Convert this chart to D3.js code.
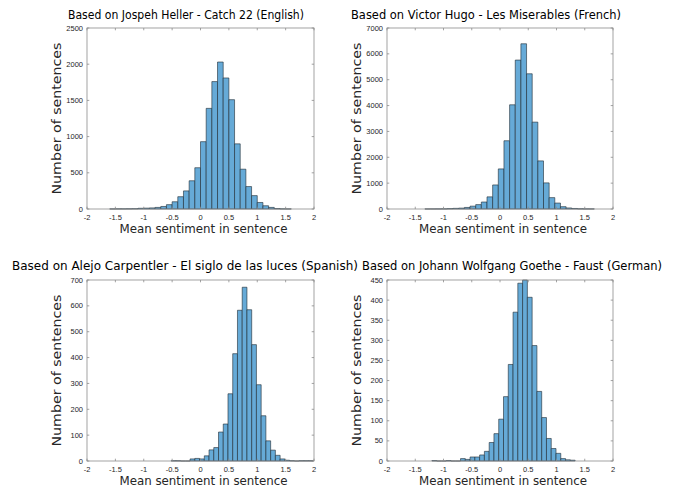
<!DOCTYPE html>
<html>
<head>
<meta charset="utf-8">
<script src="https://cdn.jsdelivr.net/npm/d3@7"></script>
<style>
  body { margin: 0; background: #fff; }
  svg { display: block; }
  .title { font-family: "DejaVu Sans", sans-serif; font-size: 11.8px; fill: #000; }
  .alabel { font-family: "DejaVu Sans", sans-serif; font-size: 12.5px; fill: #262626; }
  .tick { font-family: "Liberation Sans", Arial, sans-serif; font-size: 7.5px; fill: #262626; }
</style>
</head>
<body>
<div id="chart"></div>
<script>
// tick labels shared by all four panels
var xTicks = [-2, -1.5, -1, -0.5, 0, 0.5, 1, 1.5, 2];

// Catch 22 (English) - bins of 0.1 starting at -1.6
var catchStart = -1.6, catchWidth = 0.1;
var catchCounts = [1, 2, 2, 3, 4, 10, 12, 15, 22, 35, 60, 100, 170, 250, 390, 570,
                   930, 1390, 1760, 2030, 1810, 1510, 900, 550, 310, 185, 90, 45, 22, 6, 2, 1];
var catchYTicks = [0, 500, 1000, 1500, 2000, 2500];

// Les Miserables (French)
var hugoStart = -1.33, hugoWidth = 0.1;
var hugoCounts = [2, 3, 4, 6, 15, 25, 35, 60, 110, 170, 270, 470, 930, 1550, 2640, 4030,
                  5760, 6390, 5230, 3360, 1860, 1010, 440, 230, 90, 40, 20, 8, 4, 3];
var hugoYTicks = [0, 1000, 2000, 3000, 4000, 5000, 6000, 7000];

// El siglo de las luces (Spanish)
var carpStart = -0.5175, carpWidth = 0.0835;
var carpCounts = [1, 1, 0, 0, 8, 10, 8, 20, 43, 52, 112, 143, 260, 415, 583, 672,
                  585, 450, 295, 175, 78, 42, 22, 8, 3, 1, 0, 1, 1, 1];
var carpYTicks = [0, 100, 200, 300, 400, 500, 600, 700];

// Faust (German)
var faustStart = -1.2055, faustWidth = 0.0845;
var faustCounts = [1, 0, 0, 1, 0, 0, 6, 4, 10, 10, 15, 24, 46, 68, 104, 160,
                   240, 370, 442, 450, 407, 287, 173, 108, 56, 31, 19, 6, 3, 2];
var faustYTicks = [0, 50, 100, 150, 200, 250, 300, 350, 400, 450];

var titles = [
  "Based on Jospeh Heller - Catch 22 (English)",
  "Based on Victor Hugo - Les Miserables (French)",
  "Based on Alejo Carpentler - El siglo de las luces (Spanish)",
  "Based on Johann Wolfgang Goethe - Faust (German)"
];

var panels = [
  {title: titles[0], start: catchStart, width: catchWidth, counts: catchCounts, yTicks: catchYTicks,
   x: 87, y: 28, w: 227, h: 181, tx: 186, ty: 19, tw: 236},
  {title: titles[1], start: hugoStart, width: hugoWidth, counts: hugoCounts, yTicks: hugoYTicks,
   x: 387, y: 28, w: 226, h: 181, tx: 486, ty: 19, tw: 270},
  {title: titles[2], start: carpStart, width: carpWidth, counts: carpCounts, yTicks: carpYTicks,
   x: 87, y: 280, w: 227, h: 181, tx: 185, ty: 270, tw: 346},
  {title: titles[3], start: faustStart, width: faustWidth, counts: faustCounts, yTicks: faustYTicks,
   x: 387, y: 280, w: 226, h: 181, tx: 512, ty: 270, tw: 300}
];

var svg = d3.select("#chart").append("svg")
    .attr("width", 697)
    .attr("height", 492);

panels.forEach(function(p) {
  var g = svg.append("g").attr("transform", "translate(" + p.x + "," + p.y + ")");

  var x = d3.scaleLinear().domain([-2, 2]).range([0, p.w]);
  var y = d3.scaleLinear().domain([0, d3.max(p.yTicks)]).range([p.h, 0]);

  var bins = p.counts.map(function(c, i) {
    return {x0: p.start + i * p.width, x1: p.start + (i + 1) * p.width, count: c};
  });

  // bars (path so that empty bins still leave a line on the baseline)
  g.selectAll("path.bar")
    .data(bins)
    .enter()
    .append("path")
    .attr("class", "bar")
    .attr("d", function(d) {
      var x0 = x(d.x0), x1 = x(d.x1), y0 = y(0), y1 = y(d.count);
      return "M" + x0 + "," + y0 + "V" + y1 + "H" + x1 + "V" + y0 + "Z";
    })
    .attr("fill", "#66aad7")
    .attr("stroke", "#1f2a33")
    .attr("stroke-width", 0.6);

  // box
  g.append("rect")
    .attr("width", p.w).attr("height", p.h)
    .attr("fill", "none")
    .attr("stroke", "#8c8c8c")
    .attr("stroke-width", 0.8);

  var tl = 2.3;
  // x ticks, bottom and top, pointing inwards
  xTicks.forEach(function(t) {
    g.append("line").attr("x1", x(t)).attr("x2", x(t)).attr("y1", p.h).attr("y2", p.h - tl)
      .attr("stroke", "#8c8c8c").attr("stroke-width", 0.8);
    g.append("line").attr("x1", x(t)).attr("x2", x(t)).attr("y1", 0).attr("y2", tl)
      .attr("stroke", "#8c8c8c").attr("stroke-width", 0.8);
    g.append("text").attr("class", "tick")
      .attr("x", x(t)).attr("y", p.h + 11)
      .attr("text-anchor", "middle")
      .text(t);
  });

  p.yTicks.forEach(function(t) {
    g.append("line").attr("x1", 0).attr("x2", tl).attr("y1", y(t)).attr("y2", y(t))
      .attr("stroke", "#8c8c8c").attr("stroke-width", 0.8);
    g.append("line").attr("x1", p.w).attr("x2", p.w - tl).attr("y1", y(t)).attr("y2", y(t))
      .attr("stroke", "#8c8c8c").attr("stroke-width", 0.8);
    g.append("text").attr("class", "tick")
      .attr("x", -4).attr("y", y(t) + 2.6)
      .attr("text-anchor", "end")
      .text(t);
  });

  // axis labels
  g.append("text").attr("class", "alabel")
    .attr("x", p.w / 2 + 3).attr("y", p.h + 24)
    .attr("text-anchor", "middle")
    .attr("textLength", 168)
    .attr("lengthAdjust", "spacingAndGlyphs")
    .text("Mean sentiment in sentence");

  g.append("text").attr("class", "alabel")
    .attr("transform", "translate(-26," + (p.h / 2) + ") rotate(-90)")
    .attr("text-anchor", "middle")
    .attr("textLength", 152)
    .attr("lengthAdjust", "spacingAndGlyphs")
    .text("Number of sentences");

  svg.append("text").attr("class", "title")
    .attr("x", p.tx).attr("y", p.ty)
    .attr("text-anchor", "middle")
    .attr("textLength", p.tw)
    .attr("lengthAdjust", "spacingAndGlyphs")
    .text(p.title);
});
</script>
</body>
</html>
